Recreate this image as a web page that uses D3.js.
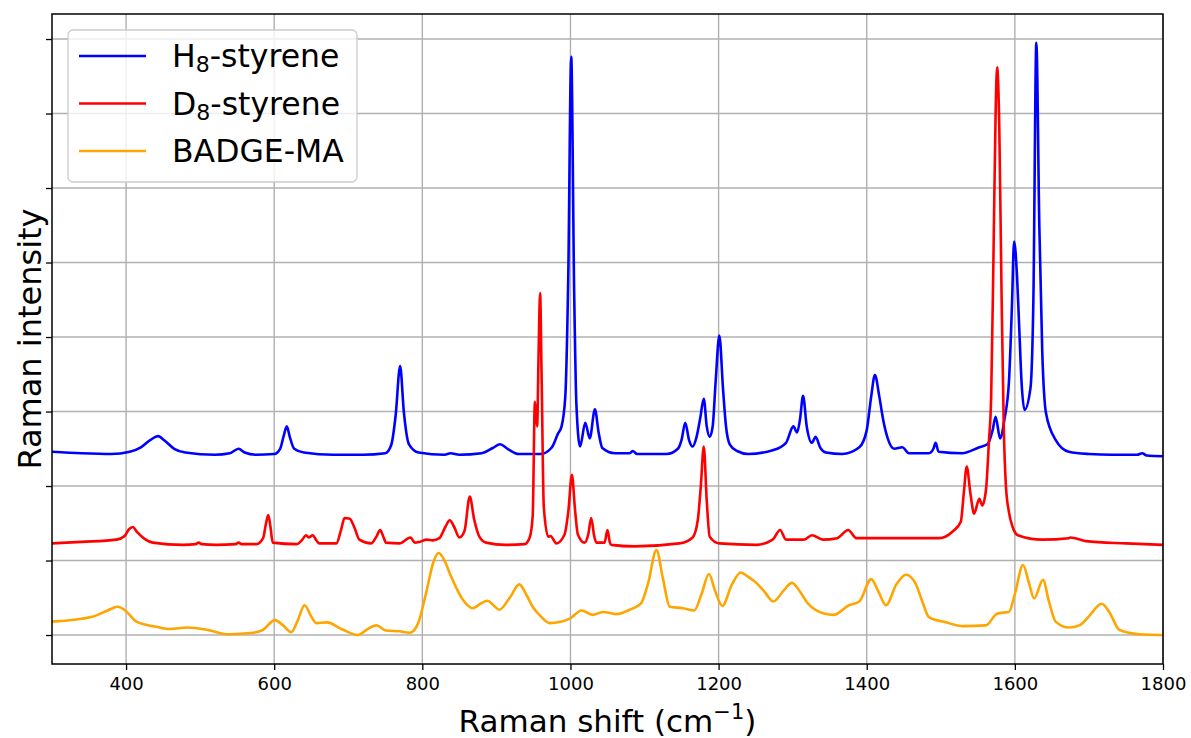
<!DOCTYPE html>
<html>
<head>
<meta charset="utf-8">
<script src="https://cdn.jsdelivr.net/npm/d3@7"></script>
<style>
  body { margin: 0; background: #fff; }
  svg { font-family: "DejaVu Sans", sans-serif; }
</style>
</head>
<body>
<div id="chart"></div>
<script>
// Raman shift (cm^-1) and intensity (offset, arbitrary units)
const h8Shift = [300, 340, 380, 405, 420, 433, 443, 452, 465, 480, 520, 540, 552, 560, 575, 600, 608, 613, 617, 621, 627, 640, 680, 720, 750, 758, 764, 770, 775, 782, 795, 830, 838, 850, 880, 895, 905, 915, 930, 960, 975, 983, 988, 993, 997, 1001, 1005, 1008, 1013, 1020, 1026, 1033, 1038, 1043, 1060, 1080, 1084, 1090, 1130, 1145, 1150, 1155, 1160, 1165, 1170, 1175, 1180, 1184, 1188, 1192, 1196, 1201, 1206, 1210, 1215, 1225, 1240, 1273, 1291, 1301, 1306, 1310, 1314, 1319, 1326, 1331, 1337, 1345, 1367, 1390, 1400, 1406, 1411, 1417, 1422, 1428, 1437, 1448, 1457, 1484, 1490, 1493, 1497, 1529, 1552, 1563, 1570, 1574, 1580, 1586, 1592, 1596, 1599, 1603, 1606, 1609, 1613, 1621, 1625, 1629, 1633, 1637, 1642, 1655, 1673, 1700, 1731, 1765, 1772, 1778, 1800];
const h8Intensity = [2.46, 2.44, 2.43, 2.46, 2.52, 2.62, 2.67, 2.61, 2.50, 2.45, 2.42, 2.44, 2.50, 2.45, 2.42, 2.43, 2.50, 2.68, 2.80, 2.66, 2.50, 2.45, 2.42, 2.42, 2.44, 2.55, 2.95, 3.61, 3.00, 2.56, 2.45, 2.42, 2.44, 2.42, 2.44, 2.51, 2.56, 2.50, 2.43, 2.43, 2.52, 2.70, 2.80, 3.20, 4.80, 7.76, 4.60, 3.10, 2.53, 2.85, 2.64, 3.03, 2.72, 2.51, 2.44, 2.44, 2.47, 2.43, 2.43, 2.50, 2.62, 2.85, 2.62, 2.53, 2.65, 2.90, 3.17, 2.80, 2.66, 2.80, 3.40, 4.02, 3.30, 2.80, 2.56, 2.47, 2.43, 2.48, 2.58, 2.80, 2.72, 2.90, 3.21, 2.80, 2.58, 2.66, 2.52, 2.45, 2.43, 2.52, 2.75, 3.20, 3.49, 3.20, 2.90, 2.65, 2.50, 2.52, 2.44, 2.44, 2.50, 2.58, 2.46, 2.44, 2.52, 2.56, 2.75, 2.93, 2.64, 2.90, 3.40, 4.40, 5.28, 4.80, 4.10, 3.40, 3.02, 3.31, 4.50, 7.95, 5.50, 3.80, 2.98, 2.62, 2.46, 2.43, 2.42, 2.42, 2.44, 2.41, 2.40];

const d8Shift = [300, 340, 387, 398, 404, 409, 415, 425, 436, 477, 494, 498, 502, 522, 548, 552, 556, 576, 585, 589, 592, 595, 598, 630, 638, 643, 647, 652, 657, 661, 684, 690, 695, 702, 708, 715, 731, 738, 743, 747, 751, 769, 784, 790, 796, 806, 814, 823, 831, 837, 843, 850, 857, 864, 870, 877, 886, 913, 938, 945, 949, 952, 955, 957, 959, 961, 964, 970, 973, 981, 992, 997, 1002, 1006, 1010, 1019, 1024, 1028, 1032, 1035, 1046, 1050, 1053, 1055, 1086, 1147, 1165, 1172, 1176, 1180, 1184, 1188, 1201, 1251, 1273, 1283, 1291, 1315, 1326, 1341, 1360, 1375, 1386, 1417, 1498, 1516, 1527, 1531, 1535, 1540, 1545, 1552, 1556, 1561, 1565, 1568, 1571, 1574, 1576, 1579, 1582, 1585, 1588, 1592, 1597, 1604, 1637, 1673, 1675, 1696, 1750, 1800];
const d8Intensity = [1.23, 1.25, 1.28, 1.33, 1.42, 1.45, 1.38, 1.29, 1.24, 1.21, 1.22, 1.24, 1.22, 1.21, 1.22, 1.24, 1.22, 1.22, 1.30, 1.50, 1.61, 1.45, 1.24, 1.22, 1.28, 1.34, 1.31, 1.34, 1.27, 1.23, 1.23, 1.40, 1.57, 1.56, 1.45, 1.28, 1.23, 1.32, 1.41, 1.33, 1.24, 1.23, 1.31, 1.24, 1.25, 1.28, 1.27, 1.30, 1.45, 1.54, 1.45, 1.31, 1.40, 1.86, 1.55, 1.32, 1.24, 1.21, 1.22, 1.31, 1.60, 3.13, 2.80, 3.80, 4.59, 3.50, 1.72, 1.32, 1.33, 1.23, 1.35, 1.65, 2.15, 1.70, 1.35, 1.24, 1.35, 1.57, 1.33, 1.24, 1.24, 1.41, 1.25, 1.21, 1.19, 1.23, 1.31, 1.55, 2.00, 2.53, 1.80, 1.32, 1.23, 1.21, 1.28, 1.41, 1.28, 1.28, 1.34, 1.28, 1.30, 1.41, 1.30, 1.30, 1.30, 1.39, 1.52, 1.90, 2.26, 1.90, 1.63, 1.83, 1.74, 1.95, 2.60, 3.20, 5.00, 7.00, 7.62, 6.80, 4.60, 2.80, 1.99, 1.65, 1.45, 1.34, 1.28, 1.30, 1.31, 1.26, 1.23, 1.21];

const badgeShift = [300, 356, 375, 389, 400, 414, 441, 459, 482, 509, 536, 560, 572, 585, 601, 612, 623, 632, 641, 650, 657, 671, 693, 713, 726, 738, 751, 769, 783, 794, 805, 815, 822, 830, 837, 855, 868, 880, 888, 896, 904, 918, 931, 940, 949, 960, 972, 999, 1015, 1030, 1044, 1062, 1080, 1095, 1105, 1116, 1125, 1134, 1152, 1167, 1177, 1187, 1195, 1205, 1218, 1230, 1240, 1251, 1262, 1274, 1288, 1299, 1310, 1320, 1332, 1355, 1376, 1390, 1406, 1416, 1426, 1440, 1453, 1466, 1475, 1484, 1507, 1529, 1561, 1575, 1583, 1592, 1600, 1611, 1619, 1626, 1638, 1646, 1655, 1673, 1687, 1700, 1717, 1728, 1741, 1768, 1800];
const badgeIntensity = [0.18, 0.25, 0.33, 0.38, 0.32, 0.18, 0.11, 0.08, 0.10, 0.07, 0.01, 0.02, 0.03, 0.07, 0.20, 0.13, 0.04, 0.20, 0.40, 0.25, 0.16, 0.17, 0.07, 0.00, 0.08, 0.13, 0.06, 0.05, 0.03, 0.15, 0.56, 0.98, 1.10, 1.00, 0.83, 0.47, 0.36, 0.43, 0.46, 0.40, 0.34, 0.50, 0.68, 0.55, 0.38, 0.25, 0.16, 0.22, 0.33, 0.27, 0.31, 0.28, 0.34, 0.42, 0.70, 1.14, 0.75, 0.38, 0.36, 0.33, 0.55, 0.82, 0.60, 0.39, 0.68, 0.84, 0.78, 0.70, 0.58, 0.45, 0.60, 0.70, 0.58, 0.43, 0.33, 0.27, 0.40, 0.45, 0.75, 0.58, 0.40, 0.68, 0.81, 0.69, 0.45, 0.24, 0.17, 0.12, 0.13, 0.28, 0.30, 0.31, 0.55, 0.94, 0.70, 0.49, 0.74, 0.45, 0.18, 0.10, 0.13, 0.25, 0.42, 0.30, 0.07, 0.01, 0.00];

const seriesNames = ["H8-styrene", "D8-styrene", "BADGE-MA"];
const seriesColors = ["#0000ff", "#ff0000", "#ffa500"];
const xTicks = [400, 600, 800, 1000, 1200, 1400, 1600, 1800];
const yTicks = [0, 1, 2, 3, 4, 5, 6, 7, 8];

const series = [
    { name: seriesNames[0], color: seriesColors[0], x: h8Shift, y: h8Intensity },
    { name: seriesNames[1], color: seriesColors[1], x: d8Shift, y: d8Intensity },
    { name: seriesNames[2], color: seriesColors[2], x: badgeShift, y: badgeIntensity }
];

const W = 1191, H = 738;
const margin = { top: 14, right: 28, bottom: 74, left: 52 };
const width = W - margin.left - margin.right;
const height = H - margin.top - margin.bottom;

const svg = d3.select("#chart")
    .append("svg")
    .attr("width", W)
    .attr("height", H);

const g = svg.append("g")
    .attr("transform", `translate(${margin.left},${margin.top})`);

const x = d3.scaleLinear().domain([300, 1800]).range([0, width]);
const y = d3.scaleLinear().domain([-0.389, 8.336]).range([height, 0]);

// grid
g.append("g")
    .selectAll("line")
    .data(xTicks)
    .join("line")
    .attr("x1", d => x(d)).attr("x2", d => x(d))
    .attr("y1", 0).attr("y2", height)
    .attr("stroke", "#b0b0b0")
    .attr("stroke-width", 1.4);

g.append("g")
    .selectAll("line")
    .data(yTicks)
    .join("line")
    .attr("x1", 0).attr("x2", width)
    .attr("y1", d => y(d)).attr("y2", d => y(d))
    .attr("stroke", "#b0b0b0")
    .attr("stroke-width", 1.4);

// spectra
g.append("clipPath").attr("id", "clip")
    .append("rect").attr("width", width).attr("height", height);

const line = d3.line()
    .x(d => x(d[0]))
    .y(d => y(d[1]))
    .curve(d3.curveMonotoneX);

g.append("g")
    .attr("clip-path", "url(#clip)")
    .selectAll("path")
    .data(series)
    .join("path")
    .attr("fill", "none")
    .attr("stroke", d => d.color)
    .attr("stroke-width", 2.6)
    .attr("stroke-linejoin", "round")
    .attr("d", d => line(d.x.map((v, i) => [v, d.y[i]])));

// axes
const xAxis = g.append("g")
    .attr("transform", `translate(0,${height})`)
    .call(d3.axisBottom(x).tickValues(xTicks).tickFormat(d3.format("d"))
        .tickSize(6).tickPadding(7).tickSizeOuter(0));
xAxis.selectAll("text").attr("font-size", 18).attr("font-family", "DejaVu Sans").attr("fill", "#000");

g.append("g")
    .call(d3.axisLeft(y).tickValues(yTicks).tickSize(6).tickFormat("").tickSizeOuter(0));

svg.selectAll(".domain").remove();
svg.selectAll(".tick line").attr("stroke", "#000").attr("stroke-width", 1.3);

// frame
g.append("rect")
    .attr("width", width).attr("height", height)
    .attr("fill", "none")
    .attr("stroke", "#000")
    .attr("stroke-width", 1.5);

// axis titles
const xTitle = svg.append("text")
    .attr("x", margin.left + width / 2)
    .attr("y", 732)
    .attr("text-anchor", "middle")
    .attr("font-size", 31)
    .text("Raman shift (cm");
xTitle.append("tspan").attr("font-size", 21).attr("dy", -13).text("\u22121");
xTitle.append("tspan").attr("dy", 13).text(")");

svg.append("text")
    .attr("transform", `translate(41,${margin.top + height / 2}) rotate(-90)`)
    .attr("text-anchor", "middle")
    .attr("font-size", 32)
    .text("Raman intensity");

// legend
const legend = svg.append("g").attr("transform", "translate(68,30)");
legend.append("rect")
    .attr("width", 289).attr("height", 152)
    .attr("rx", 5)
    .attr("fill", "#fff").attr("fill-opacity", 0.8)
    .attr("stroke", "#cccccc").attr("stroke-width", 1.3);

const rows = legend.selectAll(".row")
    .data(series)
    .join("g")
    .attr("transform", (d, i) => `translate(0,${26 + i * 47.5})`);

rows.append("line")
    .attr("x1", 11).attr("x2", 78)
    .attr("stroke", d => d.color)
    .attr("stroke-width", 2.6);

rows.each(function(d) {
    const t = d3.select(this).append("text")
        .attr("x", 104).attr("y", 11)
        .attr("font-size", 31.5);
    const m = d.name.match(/^([A-Z])(\d)(.*)$/);
    if (m) {
        t.append("tspan").text(m[1]);
        t.append("tspan").attr("font-size", 22).attr("dy", 5).text(m[2]);
        t.append("tspan").attr("dy", -5).text(m[3]);
    } else {
        t.text(d.name);
    }
});
</script>
</body>
</html>
